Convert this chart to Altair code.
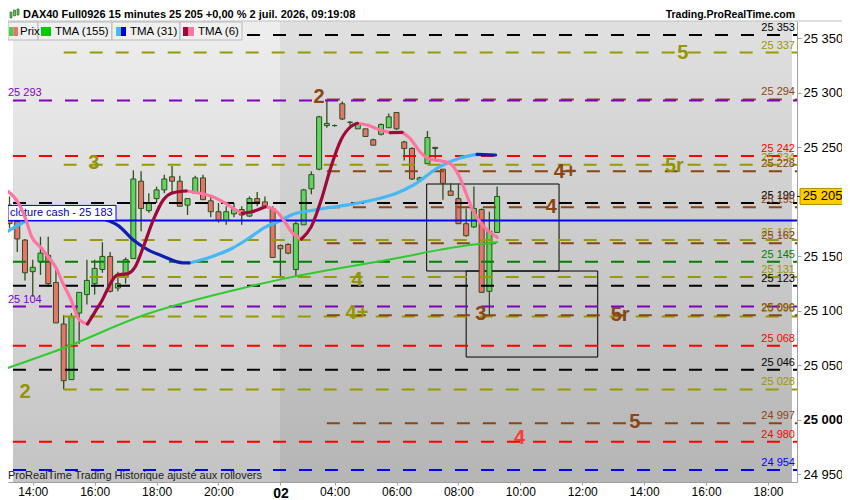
import altair as alt
import pandas as pd

# ---------------- data ----------------
# 15-minute candles, bar index 0..63 (last bar = 09:15)
opens = [25197, 25182, 25165, 25136, 25145, 25151, 25126, 25088, 25037, 25098,
         25115, 25125, 25138, 25150, 25121, 25131, 25148, 25219, 25192, 25203,
         25211, 25223, 25219, 25197, 25208, 25222, 25201, 25191, 25183, 25189,
         25193, 25187, 25203, 25200, 25194, 25160, 25161, 25138, 25179, 25212,
         25230, 25270, 25270, 25290, 25273, 25267, 25267, 25257, 25262, 25268,
         25282, 25255, 25249, 25220, 25235, 25250, 25230, 25210, 25203, 25180,
         25177, 25193, 25118, 25172]
highs = [25205, 25188, 25166, 25147, 25168, 25168, 25138, 25096, 25098, 25117,
         25147, 25147, 25163, 25154, 25136, 25149, 25229, 25228, 25208, 25214,
         25225, 25233, 25224, 25203, 25224, 25225, 25205, 25199, 25196, 25199,
         25196, 25205, 25209, 25205, 25196, 25161, 25162, 25182, 25212, 25228,
         25279, 25293, 25271, 25292, 25274, 25272, 25267, 25258, 25272, 25281,
         25282, 25256, 25250, 25223, 25265, 25250, 25230, 25217, 25216, 25194,
         25214, 25194, 25191, 25214]
lows = [25176, 25154, 25128, 25113, 25133, 25122, 25089, 25028, 25037, 25070,
        25106, 25115, 25135, 25117, 25118, 25125, 25148, 25173, 25190, 25199,
        25208, 25208, 25196, 25188, 25208, 25202, 25186, 25181, 25179, 25186,
        25179, 25186, 25196, 25195, 25149, 25130, 25152, 25132, 25179, 25207,
        25229, 25268, 25269, 25275, 25270, 25267, 25260, 25252, 25261, 25268,
        25266, 25238, 25220, 25219, 25235, 25239, 25202, 25206, 25180, 25168,
        25176, 25117, 25096, 25172]
closes = [25180, 25166, 25135, 25140, 25153, 25125, 25089, 25036, 25095, 25117,
          25128, 25139, 25150, 25118, 25125, 25147, 25221, 25194, 25199, 25211,
          25221, 25219, 25196, 25203, 25222, 25202, 25191, 25183, 25191, 25193,
          25188, 25203, 25200, 25196, 25149, 25157, 25153, 25180, 25211, 25225,
          25278, 25272, 25270, 25276, 25273, 25271, 25260, 25252, 25271, 25278,
          25267, 25249, 25221, 25222, 25259, 25249, 25217, 25206, 25180, 25169,
          25194, 25117, 25173, 25205]

# moving averages, read as (bar index, value) points
tma155 = [(-0.5, 25047), (7, 25066), (17.3, 25096), (29, 25119), (36.4, 25131),
          (50.5, 25149), (55.6, 25156), (59, 25160), (63, 25163)]
tma31_up = [
    [(-0.5, 25172), (2.0, 25182), (4.5, 25190), (6.5, 25193)],
    [(23.2, 25144), (26.2, 25150), (28.8, 25157.5), (30.9, 25166.6), (33.0, 25176.7),
     (34.7, 25181.8), (36.4, 25188), (39.4, 25192.6), (43.7, 25197.2), (47.9, 25203.3),
     (50.0, 25207.9), (52.2, 25215.5), (55.6, 25232.3), (58.1, 25240), (60.4, 25243.6)],
]
tma31_down = [
    [(6.5, 25193), (9.5, 25191), (11.8, 25185), (14.1, 25178), (16.0, 25165),
     (17.9, 25156), (19.9, 25150), (22.4, 25144), (23.2, 25144)],
    [(60.4, 25243.6), (62.8, 25243)],
]
tma6_down = [
    [(-0.5, 25211), (1.15, 25199), (2.0, 25186), (2.86, 25168), (4.13, 25157.5),
     (4.97, 25149.7), (6.05, 25139), (6.89, 25125.4), (7.96, 25110), (9.02, 25091.7),
     (10.08, 25088)],
    [(22.83, 25210), (24.54, 25208), (26.24, 25204.8), (27.93, 25198.7),
     (29.21, 25192.6), (30.06, 25189.5)],
    [(33.04, 25195.6), (34.31, 25192.6), (35.59, 25181.6), (36.44, 25172.4), (37.72, 25166)],
    [(44.95, 25272.1), (46.22, 25270.5), (47.92, 25265.9), (49.2, 25263.5)],
    [(50.73, 25263.8), (51.75, 25258.3), (53.03, 25246), (54.3, 25239.1), (55.58, 25237.8),
     (56.86, 25235.4), (58.13, 25223.1), (58.98, 25207.9), (59.83, 25192.6),
     (60.9, 25180.4), (61.95, 25172.7), (63.01, 25167.5)],
]
tma6_up = [
    [(10.08, 25088), (10.93, 25097.8), (11.99, 25110), (13.06, 25125.4), (13.9, 25133),
     (15.18, 25134), (16.25, 25140.6), (17.3, 25158.9), (18.58, 25183.4),
     (19.86, 25201.7), (21.14, 25208.4), (22.83, 25210)],
    [(30.06, 25189.5), (31.34, 25191), (33.04, 25195.6)],
    [(37.72, 25166), (38.99, 25177.3), (40.27, 25201.7), (41.54, 25232.3),
     (42.82, 25256.8), (44.09, 25269), (44.95, 25272.1)],
    [(49.2, 25263.5), (50.73, 25263.8)],
]

# horizontal levels
black_levels = [25353, 25199, 25123, 25046]
olive_levels = [25337, 25234, 25165, 25131, 25095, 25028]
brown_levels = [25294, 25228, 25195, 25162, 25096, 24997]
red_levels = [25242, 25068, 24980]
purple_levels = [25293, 25104]
green_levels = [25145]
blue_levels = [24954]
olive_start = 7      # bar where the olive levels begin
brown_start = 41     # bar where the brown levels begin
cash_close = 25183
last_price = 25205
day_break = 34.95    # first bar of 2 July

# boxes (bar index / price)
box_x1 = [53.9, 59.0]
box_x2 = [71.0, 76.0]
box_top = [25216.4, 25136.6]
box_bot = [25136.6, 25057.7]

# wave labels
ann_text = ["2", "3", "4+", "5r", "4", "4", "4+", "3", "5r", "2", "5", "4", "5"]
ann_i = [40.0, 10.9, 71.8, 85.9, 70.0, 44.9, 44.9, 60.9, 78.9, 2.0, 80.8, 65.9, 87.0]
ann_v = [25296, 25236, 25227, 25233, 25195, 25128, 25098, 25097, 25096, 25026, 24998, 24983, 25337]
ann_grp = ["brown", "olive", "brown", "olive", "brown", "olive", "olive", "brown", "brown",
           "olive", "brown", "red", "olive"]

tick_idx = [3, 11, 19, 27, 35, 42, 50, 58, 66, 74, 82, 90, 98]
tick_lbl = ["14:00", "16:00", "18:00", "20:00", "02", "04:00", "06:00", "08:00",
            "10:00", "12:00", "14:00", "16:00", "18:00"]
y_ticks = [24950, 25000, 25050, 25100, 25150, 25250, 25300, 25350]

# ---------------- styling ----------------
W, H = 789, 461
FONT = "Liberation Sans"
X_DOM = [0.45, 101.1]
Y_DOM = [24943.1, 25365.9]
COL = {"black": "#000000", "olive": "#999900", "brown": "#8b4513", "red": "#ff0000",
       "purple": "#8000c0", "green": "#008000", "blue": "#0000ff"}
UP_FILL, DOWN_FILL, OUTLINE = "#5cd65c", "#e8736b", "#2e4f1c"

xscale = alt.Scale(domain=X_DOM, nice=False, zero=False)
yscale = alt.Scale(domain=Y_DOM, nice=False, zero=False)

label_expr = " : ".join(f"datum.value == {i} ? '{l}'" for i, l in zip(tick_idx, tick_lbl)) + " : ''"
xaxis = alt.Axis(values=tick_idx, labelExpr=label_expr, grid=False, title=None,
                 domainColor="#a0a0a0", tickColor="#a0a0a0", tickSize=3, labelPadding=1,
                 labelFont=FONT, labelColor="#000000", labelFlush=False, labelOverlap=False,
                 labelFontSize={"condition": {"test": "datum.value == 35", "value": 14}, "value": 12},
                 labelFontWeight={"condition": {"test": "datum.value == 35", "value": "bold"},
                                  "value": "normal"})
yaxis = alt.Axis(orient="right", values=y_ticks, grid=False, title=None,
                 labelExpr="replace(format(datum.value, ','), ',', ' ')",
                 domainColor="#a0a0a0", tickColor="#a0a0a0", tickSize=4, labelPadding=2,
                 labelFont=FONT, labelFontSize=13, labelColor="#000000", labelOverlap=False,
                 labelFontWeight={"condition": {"test": "datum.value == 25000", "value": "bold"},
                                  "value": "normal"})


def X(f):
    return alt.X(f, type="quantitative", scale=xscale, axis=xaxis)


def Y(f):
    return alt.Y(f, type="quantitative", scale=yscale, axis=yaxis)


one = pd.DataFrame({"k": [0]})


def vrect(x0, x1, y0, y1, **kw):
    return alt.Chart(one).mark_rect(**kw).encode(
        x=alt.value(x0), x2=alt.value(x1), y=alt.value(y0), y2=alt.value(y1))


def vtext(txt, x, y, **kw):
    kw.setdefault("font", FONT)
    return alt.Chart(one).mark_text(text=txt, **kw).encode(x=alt.value(x), y=alt.value(y))


def fmt(v):
    return f"{v:,}".replace(",", " ")


layers = []

# background (previous day lighter)
grad_prev = alt.Gradient(gradient="linear", x1=0, x2=0, y1=0, y2=1,
                         stops=[alt.GradientStop(color="#eeeeee", offset=0),
                                alt.GradientStop(color="#c3c3c3", offset=1)])
grad_cur = alt.Gradient(gradient="linear", x1=0, x2=0, y1=0, y2=1,
                        stops=[alt.GradientStop(color="#e0e0e0", offset=0),
                               alt.GradientStop(color="#b5b5b5", offset=1)])
bg = pd.DataFrame({"a": [X_DOM[0], day_break], "b": [day_break, X_DOM[1]]})
layers.append(alt.Chart(bg.iloc[[0]]).mark_rect(fill=grad_prev).encode(
    x=X("a"), x2=alt.X2("b"), y=alt.value(0), y2=alt.value(H)))
layers.append(alt.Chart(bg.iloc[[1]]).mark_rect(fill=grad_cur).encode(
    x=X("a"), x2=alt.X2("b"), y=alt.value(0), y2=alt.value(H)))

# boxes
boxes = pd.DataFrame({"x1": box_x1, "x2": box_x2, "t": box_top, "b": box_bot})
layers.append(alt.Chart(boxes).mark_rect(fillOpacity=0, stroke="#000000", strokeWidth=1, clip=True)
              .encode(x=X("x1"), x2=alt.X2("x2"), y=Y("t"), y2=alt.Y2("b")))

# candles
cdf = pd.DataFrame({"i": list(range(len(opens))), "o": opens, "h": highs, "l": lows, "c": closes})
up = cdf[cdf.c >= cdf.o]
down = cdf[cdf.c < cdf.o]
layers.append(alt.Chart(cdf).mark_rule(color=OUTLINE, strokeWidth=1.3, clip=True)
              .encode(x=X("i"), y=Y("l"), y2=alt.Y2("h")))
for part, fill in ((up, UP_FILL), (down, DOWN_FILL)):
    layers.append(alt.Chart(part).mark_bar(size=5, fill=fill, stroke=OUTLINE, strokeWidth=1,
                                           orient="vertical", clip=True)
                  .encode(x=X("i"), y=Y("o"), y2=alt.Y2("c")))

# level lines
groups = [("black", black_levels, X_DOM[0]), ("olive", olive_levels, olive_start),
          ("brown", brown_levels, brown_start), ("red", red_levels, X_DOM[0]),
          ("purple", purple_levels, X_DOM[0]), ("green", green_levels, X_DOM[0]),
          ("blue", blue_levels, X_DOM[0])]
for name, lv, start in groups:
    df = pd.DataFrame({"v": lv, "s": [start] * len(lv), "t": [fmt(v) for v in lv]})
    layers.append(alt.Chart(df).mark_rule(color=COL[name], strokeWidth=2, strokeDash=[13, 13], clip=True)
                  .encode(x=X("s"), x2=alt.value(W), y=Y("v")))

# moving averages


def seg_layer(points, color, width):
    df = pd.DataFrame({"i": [p[0] for p in points], "v": [p[1] for p in points],
                       "n": list(range(len(points)))})
    return alt.Chart(df).mark_line(color=color, strokeWidth=width, clip=True,
                                   interpolate="monotone", strokeCap="round").encode(
        x=X("i"), y=Y("v"), order="n:Q")


layers.append(seg_layer(tma155, "#2ecc2e", 2))
for s in tma31_up:
    layers.append(seg_layer(s, "#45b8f5", 3.2))
for s in tma31_down:
    layers.append(seg_layer(s, "#0d1fb0", 3.2))

# cash close line with its label box
cash = pd.DataFrame({"v": [cash_close]})
layers.append(alt.Chart(cash).mark_rule(color="#0000ff", strokeWidth=2)
              .encode(x=alt.value(0), x2=alt.value(W), y=Y("v")))
layers.append(alt.Chart(cash).mark_rect(fill="#ffffff", stroke="#0000ff", strokeWidth=1, y2Offset=-15)
              .encode(x=alt.value(0), x2=alt.value(108), y=Y("v"), y2=alt.Y2("v")))
layers.append(alt.Chart(cash).mark_text(text="clôture cash -  " + fmt(cash_close), align="left",
                                        baseline="middle", dy=-7.5, font=FONT, fontSize=11,
                                        color="#0000b0")
              .encode(x=alt.value(2), y=Y("v")))

for s in tma6_down:
    layers.append(seg_layer(s, "#ff74a0", 3.2))
for s in tma6_up:
    layers.append(seg_layer(s, "#9c0a3c", 3.2))

# level labels
for name, lv, start in groups:
    df = pd.DataFrame({"v": lv, "t": [fmt(v) for v in lv]})
    if name == "purple":
        layers.append(alt.Chart(df).mark_text(align="left", baseline="middle", dy=-7, font=FONT,
                                              fontSize=11, color=COL[name])
                      .encode(x=alt.value(0), y=Y("v"), text=alt.Text("t:N")))
    else:
        layers.append(alt.Chart(df).mark_text(align="right", baseline="middle", dy=-7, font=FONT,
                                              fontSize=11, color=COL[name])
                      .encode(x=alt.value(W - 2), y=Y("v"), text=alt.Text("t:N")))

# wave labels
adf = pd.DataFrame({"t": ann_text, "i": ann_i, "v": ann_v, "g": ann_grp})
ann_colors = {"brown": "#8b4513", "olive": "#959500", "red": "#ff3838"}
for g, c in ann_colors.items():
    layers.append(alt.Chart(adf[adf.g == g]).mark_text(font=FONT, fontSize=20, fontWeight="bold",
                                                       color=c, baseline="middle", align="center")
                  .encode(x=X("i"), y=Y("v"), text=alt.Text("t:N")))

# last price marker on the axis
lp = pd.DataFrame({"v": [last_price]})
layers.append(alt.Chart(lp).mark_rule(color="#000000", strokeWidth=1)
              .encode(x=alt.value(W), x2=alt.value(W + 4), y=Y("v")))
layers.append(alt.Chart(lp).mark_rect(fill="#ffcc00", stroke="#b09000", strokeWidth=1,
                                      yOffset=-8, y2Offset=8)
              .encode(x=alt.value(W + 3), x2=alt.value(W + 48), y=Y("v"), y2=alt.Y2("v")))
layers.append(alt.Chart(lp).mark_text(text=fmt(last_price), font=FONT, fontSize=13, color="#000000",
                                      align="center", baseline="middle")
              .encode(x=alt.value(W + 25.5), y=Y("v")))

# legend strip
for x0, x1 in ((0, 30), (30, 104), (104, 172), (172, 234)):
    layers.append(vrect(x0, x1, 1, 19, fill="#f0f0f0", stroke="#b8b8b8", strokeWidth=1))
layers.append(vrect(1, 5.5, 6, 15, fill="#4ccc4c"))
layers.append(vrect(5.5, 10, 6, 15, fill="#e8736b"))
layers.append(vrect(33, 43, 6, 15, fill="#00cc00"))
layers.append(vrect(108, 113, 6, 15, fill="#45b8f5"))
layers.append(vrect(113, 118, 6, 15, fill="#0000cc"))
layers.append(vrect(175, 180.5, 6, 15, fill="#9c0a3c"))
layers.append(vrect(180.5, 186, 6, 15, fill="#ff74a0"))
for txt, x in (("Prix", 12), ("TMA (155)", 47), ("TMA (31)", 122), ("TMA (6)", 190)):
    layers.append(vtext(txt, x, 10.5, align="left", baseline="middle", fontSize=11.5, color="#000000"))

# footer inside the plot
layers.append(vtext("ProRealTime Trading  Historique ajusté aux rollovers", 0, H - 6,
                    align="left", baseline="middle", fontSize=11, color="#222222"))

# title bar
layers.append(vrect(0, W + 45, -13, 0, fill="#ffffff"))
layers.append(alt.Chart(one).mark_rule(color="#bdbdbd", strokeWidth=1)
              .encode(x=alt.value(0), x2=alt.value(W + 45), y=alt.value(0)))
layers.append(vrect(2, 4, -9, -3, fill="#4ccc4c", stroke="#2e4f1c", strokeWidth=0.6))
layers.append(vrect(5.5, 7.5, -11, -5, fill="#4ccc4c", stroke="#2e4f1c", strokeWidth=0.6))
layers.append(vrect(9, 11, -12, -6, fill="#4ccc4c", stroke="#2e4f1c", strokeWidth=0.6))
layers.append(vtext("DAX40 Full0926 15 minutes 25 205 +0,00 % 2 juil. 2026, 09:19:08", 15, -6,
                    align="left", baseline="middle", fontSize=11, fontWeight="bold", color="#000000"))
layers.append(vtext("Trading.ProRealTime.com", W - 2, -6, align="right", baseline="middle",
                    fontSize=10.5, fontWeight="bold", color="#000000"))

chart = alt.layer(*layers).properties(
    width=W, height=H,
    autosize=alt.AutoSizeParams(type="none"),
    padding={"left": 0, "top": 13, "right": 45, "bottom": 18},
    background="#ffffff",
).configure_view(strokeWidth=0)

chart.save("out.html", embed_options={"renderer": "svg", "actions": False})
